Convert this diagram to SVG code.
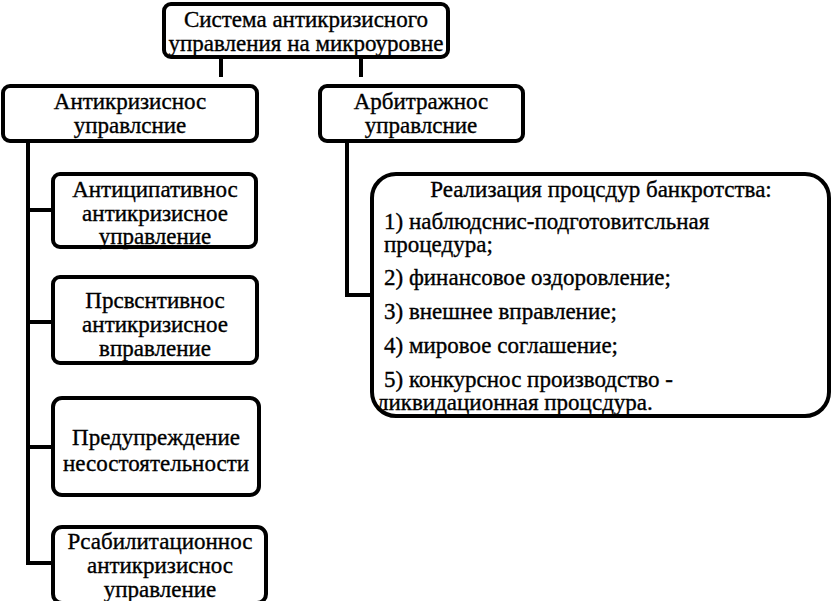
<svg xmlns="http://www.w3.org/2000/svg" width="833" height="601" viewBox="0 0 833 601">
<style>
.box{fill:#fff;stroke:#000;stroke-width:4}
.ln{fill:none;stroke:#000;stroke-width:4;stroke-linecap:butt}
.t text{font-family:'Liberation Serif','Times New Roman','DejaVu Serif',serif;font-size:23px;fill:#000;stroke:#000;stroke-width:0.35}
.c{text-anchor:middle}
</style>
<rect width="833" height="601" fill="#fff"/>
<g id="connectors">
<line class="ln" x1="221" y1="59" x2="221" y2="77" stroke-width="5"/>
<line class="ln" x1="361" y1="59" x2="361" y2="77" stroke-width="5"/>
<polyline class="ln" points="28,142 28,563 53,563"/>
<line class="ln" x1="28" y1="210" x2="53" y2="210"/>
<line class="ln" x1="28" y1="322" x2="53" y2="322"/>
<line class="ln" x1="28" y1="447" x2="53" y2="447"/>
<polyline class="ln" points="347,142 347,295 373,295"/>
</g>
<g class="t">
<g id="top">
<rect class="box" x="164" y="4" width="284" height="53" rx="7"/>
<text class="c" x="306" y="27">Система антикризисного</text>
<text class="c" x="306" y="51">управления на микроуровне</text>
</g>
<g id="anti">
<rect class="box" x="3" y="86" width="254" height="55" rx="7"/>
<text class="c" x="130" y="109">Антикризиснос</text>
<text class="c" x="130" y="133">управлсние</text>
</g>
<g id="arb">
<rect class="box" x="320" y="86" width="203" height="55" rx="7"/>
<text class="c" x="421" y="109">Арбитражнос</text>
<text class="c" x="421" y="133">управлсние</text>
</g>
<g id="b1">
<rect class="box" x="53" y="174" width="203" height="73" rx="7"/>
<text class="c" x="155" y="197">Антиципативнос</text>
<text class="c" x="155" y="221">антикризисное</text>
<text class="c" x="155" y="244">управление</text>
</g>
<g id="b2">
<rect class="box" x="53" y="277" width="204" height="86" rx="7"/>
<text class="c" x="155" y="308">Прсвснтивнос</text>
<text class="c" x="155" y="332">антикризисное</text>
<text class="c" x="155" y="356">вправление</text>
</g>
<g id="b3">
<rect class="box" x="53" y="398" width="206" height="97" rx="9"/>
<text class="c" x="156" y="445">Предупреждение</text>
<text class="c" x="156" y="471">несостоятельности</text>
</g>
<g id="b4">
<rect class="box" x="53" y="527" width="213" height="76" rx="9"/>
<text class="c" x="160" y="549">Рсабилитационнос</text>
<text class="c" x="160" y="573">антикризиснос</text>
<text class="c" x="160" y="597">управление</text>
</g>
<g id="proc">
<rect class="box" x="372" y="174" width="457" height="242" rx="24"/>
<text class="c" x="601" y="197">Реализация процсдур банкротства:</text>
<text x="384" y="229">1) наблюдснис-подготовитсльная</text>
<text x="384" y="252">процедура;</text>
<text x="384" y="285">2) финансовое оздоровление;</text>
<text x="384" y="319">3) внешнее вправление;</text>
<text x="384" y="353">4) мировое соглашение;</text>
<text x="384" y="387">5) конкурснос производство -</text>
<text x="377" y="410">ликвидационная процсдура.</text>
</g>
</g>
</svg>
